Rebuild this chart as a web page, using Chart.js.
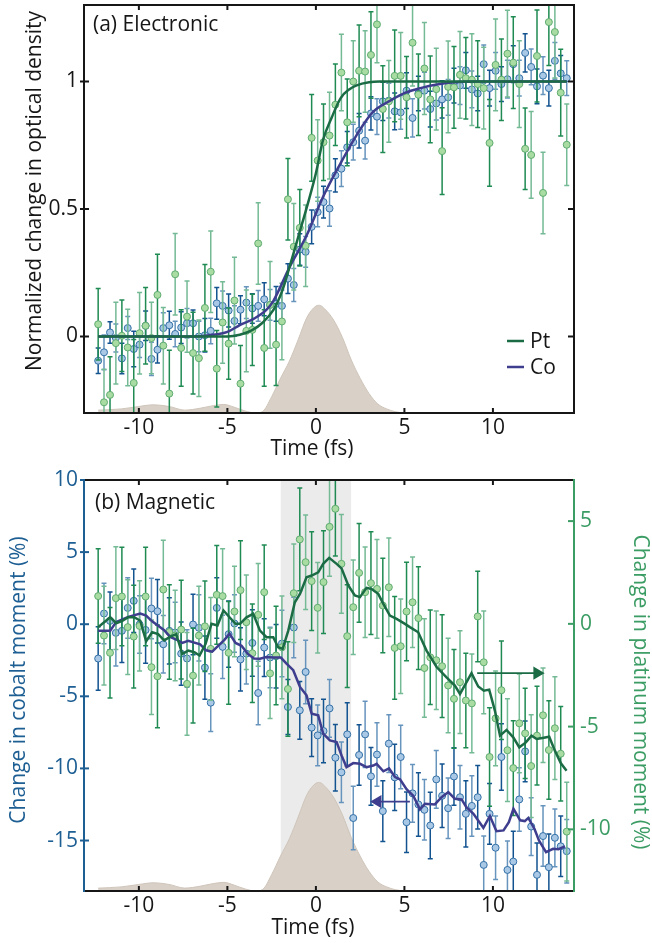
<!DOCTYPE html>
<html lang="en">
<head>
<meta charset="UTF-8">
<title>Electronic and magnetic response</title>
<script src="https://cdn.jsdelivr.net/npm/chart.js@4.4.1/dist/chart.umd.min.js"></script>
<style>
  body { margin: 0; background: #fff; }
  canvas { display: block; }
</style>
</head>
<body>
<canvas id="elec" width="652" height="460"></canvas>
<canvas id="magn" width="652" height="483"></canvas>
<script>
// time axis of the measured points (fs)
const times = [-12.3,-11.97,-11.63,-11.3,-10.96,-10.63,-10.29,-9.96,-9.62,-9.29,
  -8.95,-8.62,-8.28,-7.95,-7.61,-7.28,-6.94,-6.61,-6.27,-5.94,
  -5.6,-5.27,-4.93,-4.6,-4.26,-3.93,-3.59,-3.26,-2.92,-2.59,
  -2.25,-1.92,-1.58,-1.25,-0.91,-0.58,-0.24,0.1,0.43,0.77,
  1.1,1.44,1.77,2.11,2.44,2.78,3.11,3.45,3.78,4.12,
  4.45,4.79,5.12,5.46,5.79,6.13,6.46,6.8,7.13,7.47,
  7.8,8.14,8.47,8.81,9.14,9.48,9.81,10.15,10.48,10.82,
  11.15,11.49,11.82,12.16,12.49,12.83,13.16,13.5,13.83,14.17];

const xTicks = [-10, -5, 0, 5, 10];
const odTicks = [0, 0.5, 1];
const coTicks = [-15, -10, -5, 0, 5, 10];
const ptTicks = [-10, -5, 0, 5];

// (a) electronic: normalized change in optical density
const odCo = [-0.095,-0.062,0.016,-0.006,-0.086,0.033,-0.049,-0.032,0.042,-0.088,
  -0.052,0.033,0.044,0.01,0.035,0.052,0.052,0.0,0.005,0.022,
  0.13,0.12,0.102,0.061,0.105,0.133,0.11,0.12,0.146,0.124,
  0.128,0.12,0.227,0.202,0.341,0.332,0.43,0.488,0.527,0.502,
  0.632,0.658,0.742,0.762,0.807,0.768,0.875,0.862,0.922,0.925,
  0.883,0.879,0.964,0.857,0.953,0.964,0.892,0.914,0.93,0.938,
  0.984,0.984,1.044,0.969,0.953,1.068,0.974,1.042,0.99,1.009,
  1.068,1.013,1.112,1.057,0.981,1.023,0.974,1.081,1.032,1.013];
const odCoErr = [0.05,0.068,0.042,0.055,0.06,0.045,0.07,0.05,0.058,0.065,
  0.052,0.06,0.055,0.05,0.062,0.058,0.052,0.06,0.066,0.05,
  0.062,0.058,0.065,0.06,0.055,0.062,0.058,0.06,0.065,0.06,
  0.068,0.062,0.058,0.065,0.062,0.06,0.066,0.058,0.062,0.07,
  0.065,0.07,0.062,0.07,0.068,0.072,0.065,0.07,0.075,0.068,
  0.072,0.066,0.07,0.075,0.068,0.072,0.07,0.065,0.073,0.07,
  0.068,0.074,0.07,0.072,0.068,0.075,0.07,0.072,0.068,0.074,
  0.072,0.07,0.075,0.07,0.068,0.074,0.07,0.072,0.07,0.068];
const odPt = [0.048,-0.258,-0.229,-0.026,0.003,-0.043,-0.182,0.013,0.042,-0.006,
  0.163,-0.036,-0.224,0.244,-0.045,0.078,-0.065,-0.085,0.112,0.254,
  -0.126,0.055,-0.028,0.141,-0.185,0.022,0.026,0.365,-0.045,0.124,
  -0.032,0.059,0.538,0.352,0.426,0.356,0.779,0.69,0.762,0.788,
  0.909,1.035,0.84,1.0,1.042,1.039,1.104,1.224,0.892,0.922,
  1.022,1.022,0.938,1.152,0.948,1.051,0.93,0.97,0.727,0.979,
  0.977,1.026,1.013,1.007,0.99,0.974,0.759,1.065,1.007,1.109,
  1.074,0.99,0.736,0.712,1.1,0.563,1.233,1.194,0.956,0.752];
const odPtErr = [0.14,0.13,0.15,0.16,0.14,0.15,0.17,0.16,0.15,0.14,
  0.16,0.15,0.17,0.16,0.15,0.14,0.16,0.15,0.17,0.16,
  0.15,0.16,0.14,0.17,0.15,0.16,0.14,0.16,0.15,0.17,
  0.16,0.15,0.16,0.17,0.15,0.16,0.17,0.16,0.15,0.17,
  0.16,0.15,0.17,0.16,0.18,0.16,0.17,0.15,0.17,0.16,
  0.18,0.17,0.16,0.17,0.16,0.18,0.17,0.16,0.17,0.18,
  0.16,0.17,0.16,0.18,0.17,0.16,0.17,0.18,0.16,0.17,
  0.18,0.17,0.16,0.17,0.18,0.16,0.17,0.18,0.17,0.16];

// fitted curves
const fitPtT = [-12.3,-5,-4.3,-3.6,-3,-2.4,-1.9,-1.5,-1,-0.5,0,0.4,0.9,1.4,1.9,2.3,3,3.6,4.5,14.17];
const fitPtV = [0,0,0.007,0.025,0.055,0.104,0.18,0.27,0.39,0.51,0.64,0.77,0.86,0.935,0.97,0.985,0.997,1,1,1];
const fitCoT = [-12.3,-7,-6,-5,-4.3,-3.5,-2.8,-2.4,-1.5,-0.5,0.4,1.4,2.3,3.2,4.2,5.1,5.9,7,8,9,14.17];
const fitCoV = [0,0,0.005,0.018,0.045,0.07,0.104,0.14,0.27,0.4,0.547,0.68,0.79,0.879,0.925,0.957,0.974,0.99,0.998,1,1];

// pump pulse envelope, as a fraction of the panel height
const pulseT = [-12.3,-11,-10,-9.2,-8.3,-7.4,-6.5,-5.8,-5.2,-4.6,-4,-3.4,-3,-2.5,-2,-1.5,-1,-0.5,0,0.2,0.5,1,1.5,2,2.5,3,3.5,4,4.5,5];
const pulseV = [0.007,0.01,0.016,0.02,0.016,0.007,0.012,0.018,0.021,0.014,0.005,0,0.004,0.04,0.085,0.127,0.18,0.235,0.262,0.264,0.255,0.228,0.185,0.13,0.085,0.048,0.022,0.01,0.003,0];

// (b) magnetic: change in moment (%)
const magCo = [-2.38,0.74,0.23,-0.6,-0.46,1.13,1.62,-0.02,-0.4,1.09,
  0.9,-1.39,-0.46,-0.58,-2.04,-2.38,-0.02,-0.25,-3.01,-5.44,
  1.13,-1.57,-0.69,0.05,-2.44,-2.04,-1.3,-4.77,-1.62,-2.31,
  -2.22,-1.34,-5.74,-0.23,-5.97,-3.31,-7.17,-7.71,-7.41,-5.84,
  -9.26,-10.27,-7.64,-13.44,-9.07,-7.64,-10.55,-9.04,-12.96,-8.28,
  -10.62,-9.21,-13.73,-11.73,-12.5,-12.87,-13.96,-10.76,-11.9,-12.76,
  -10.56,-12.0,-13.15,-12.6,-12.0,-16.69,-13.15,-15.5,-9.21,-17.04,
  -16.46,-12.15,-8.82,-14.03,-17.38,-14.69,-16.85,-14.81,-15.4,-15.74];
const magCoErr = [2.2,2.1,2.0,2.3,2.2,2.1,2.2,2.0,2.3,2.1,
  2.2,2.0,2.3,2.1,2.2,2.0,2.1,2.3,2.2,2.0,
  2.1,2.2,2.3,2.0,2.2,2.1,2.3,2.2,2.0,2.1,
  2.2,2.3,1.9,2.1,2.0,2.2,2.0,2.1,2.2,2.0,
  2.3,2.1,2.2,2.2,2.1,2.3,2.0,2.2,2.1,2.0,
  2.3,2.2,2.1,2.0,2.2,2.1,2.3,2.0,2.2,2.1,
  2.0,2.2,2.3,2.1,2.2,2.0,2.1,2.2,2.3,2.0,
  2.1,2.2,2.1,2.0,2.2,2.1,2.3,2.0,2.1,2.2];
const magPt = [1.35,-0.57,-1.41,1.25,1.33,-0.16,-0.62,-0.1,1.33,-2.11,
  -2.55,1.67,-0.4,-0.57,-0.28,-2.92,-2.52,-0.57,-0.12,-1.22,
  1.41,1.35,-1.41,0.6,1.64,0.08,-1.43,0.44,1.54,-2.41,
  -1.54,-1.14,-3.17,1.49,4.11,3.0,2.08,0.78,2.03,4.72,
  5.6,2.92,-0.6,0.81,2.48,1.54,1.98,1.7,0.89,1.78,
  -1.17,-1.09,0.6,1.05,0.28,-2.15,-1.63,-1.77,-2.06,-3.0,
  -3.65,-2.84,-3.73,-3.87,0.36,-1.87,-6.48,-4.6,-3.23,-6.15,
  -7.02,-4.84,-5.33,-6.92,-5.44,-4.45,-6.14,-5.08,-6.32,-10.11];
const magPtErr = [2.3,2.4,2.2,2.5,2.4,2.3,2.5,2.2,2.4,2.3,
  2.5,2.4,2.3,2.2,2.4,2.5,2.3,2.4,2.2,2.5,
  2.4,2.3,2.5,2.2,2.4,2.3,2.4,2.5,2.3,2.2,
  2.4,2.5,2.3,2.4,2.5,2.3,2.4,2.2,2.5,2.4,
  2.3,2.4,2.5,2.3,2.4,2.2,2.5,2.4,2.3,2.4,
  2.5,2.3,2.4,2.2,2.5,2.4,2.3,2.4,2.5,2.3,
  2.4,2.5,2.3,2.4,2.2,2.5,2.4,2.3,2.4,2.5,
  2.3,2.4,2.2,2.5,2.4,2.3,2.4,2.5,2.3,2.4];

// running averages
const avgCoT = [-12.3,-11.62,-11.28,-10.6,-9.92,-9.59,-9.25,-8.57,-8.23,-7.89,-7.55,-7.21,-6.54,-6.2,-5.86,-5.52,-5.18,-4.88,-4.54,-4.2,
  -3.86,-3.5,-3.16,-2.79,-2.41,-1.98,-1.66,-1.28,-0.9,-0.53,-0.24,0.13,0.41,0.79,1.17,1.45,1.73,2.11,2.49,2.86,
  3.24,3.43,3.81,4.13,4.47,4.75,5.13,5.5,5.88,6.16,6.72,7.1,7.48,7.85,8.23,8.5,8.9,9.46,9.83,10.2,
  10.6,10.9,11.16,11.54,11.8,12.0,12.35,12.6,13.0,13.4,13.7,14.07];
const avgCoV = [-0.45,-0.45,0.16,0.51,0.74,0.6,0.2,-0.42,-0.88,-1.06,-1.3,-1.15,-1.4,-1.81,-1.9,-1.5,-1.1,-0.65,-1.3,-1.5,
  -2.04,-2.38,-2.4,-2.27,-2.3,-2.31,-2.73,-3.19,-4.35,-4.93,-6.2,-6.32,-7.59,-8.06,-8.17,-9.1,-9.91,-9.63,-9.68,-9.91,
  -9.8,-9.68,-10.2,-10.0,-10.6,-10.75,-11.45,-11.9,-12.85,-12.45,-12.5,-12.0,-11.64,-12.1,-12.15,-12.69,-13.15,-14.12,-13.3,-14.35,
  -14.3,-13.73,-12.8,-13.6,-13.65,-13.43,-14.2,-15.0,-15.8,-15.57,-15.6,-15.4];
const avgPtT = [-12.3,-11.96,-11.62,-11.28,-10.94,-10.6,-10.26,-9.92,-9.59,-9.25,-8.91,-8.57,-8.23,-7.89,-7.55,-7.21,-6.87,-6.57,-6.23,-5.9,
  -5.56,-5.22,-4.88,-4.54,-4.29,-3.92,-3.54,-3.16,-2.79,-2.41,-2.13,-1.88,-1.56,-1.19,-0.9,-0.53,-0.24,0.13,0.41,0.75,
  1.17,1.45,1.83,2.2,2.49,2.86,3.14,3.52,3.81,4.18,4.56,5.03,5.31,5.78,6.25,6.82,7.38,7.85,8.14,8.51,
  8.79,9.17,9.49,9.79,10.11,10.4,10.77,11.15,11.49,11.86,12.18,12.47,12.8,13.18,13.5,13.84,14.16];
const avgPtV = [-0.16,0.08,0.32,0.03,0.15,0.32,0.32,0.15,-0.85,-0.41,-0.5,-0.81,-0.62,-0.5,-1.46,-1.3,-1.38,-1.54,-0.97,0,
  -0.08,0.65,0.32,0,0,0.32,0.49,-0.33,-0.65,-0.65,-1.14,-1.22,-0.33,1.05,1.46,2.27,2.35,2.51,2.92,3.21,
  2.92,2.7,1.87,1.38,1.3,1.75,1.7,1.46,0.97,0.4,0.24,0,-0.16,-0.41,-1.3,-2.1,-2.6,-3.0,-3.41,-2.84,
  -2.4,-3.05,-3.25,-3.2,-4.22,-5.44,-5.16,-5.52,-6.01,-5.77,-5.44,-5.6,-5.55,-5.49,-6.17,-6.79,-7.15];

// shaded pulse window and the two axis arrows
const bandT = [-2, 2], bandV = [1, 1];
const arrowPtT = [9.11, 12.5], arrowPtV = [-2.4, -2.4];
const arrowCoT = [5.31, 3.49], arrowCoV = [-12.3, -12.3];

const FONT = "'Open Sans', 'Noto Sans', sans-serif";
const INK = '#161616';
const CO_AXIS = '#1d5e93', PT_AXIS = '#3b9c64';
const CO_LINE = '#3e3d8e', PT_LINE = '#1b6b45';
const CO_FILL = '#a8c8e5', CO_EDGE = '#3470a6', CO_BARS = ['#135390', '#6694bd'];
const PT_FILL = '#a9dca2', PT_EDGE = '#5fab70', PT_BARS = ['#1f8b53', '#74ba95'];
const PULSE = '#d9d0c8';

Chart.defaults.font.family = FONT;
Chart.defaults.font.size = 21;
Chart.defaults.color = INK;

const xy = (xs, ys) => xs.map((x, i) => ({ x, y: ys[i] }));

// vertical error bars with caps, drawn under each point set
const errorBars = {
  id: 'errorBars',
  beforeDatasetDraw(chart, args) {
    const ds = chart.data.datasets[args.index];
    if (!ds.err) return;
    const ys = chart.scales[args.meta.yAxisID];
    const { ctx, chartArea: a } = chart;
    ctx.save();
    ctx.beginPath();
    ctx.rect(a.left, a.top, a.right - a.left, a.bottom - a.top);
    ctx.clip();
    ctx.lineWidth = 1.5;
    args.meta.data.forEach((pt, i) => {
      const v = ds.data[i].y, e = ds.err[i];
      const y1 = ys.getPixelForValue(v + e), y2 = ys.getPixelForValue(v - e);
      ctx.strokeStyle = ds.barColors[i % 2];
      ctx.beginPath();
      ctx.moveTo(pt.x, y1); ctx.lineTo(pt.x, y2);
      ctx.moveTo(pt.x - 2.5, y1); ctx.lineTo(pt.x + 2.5, y1);
      ctx.moveTo(pt.x - 2.5, y2); ctx.lineTo(pt.x + 2.5, y2);
      ctx.stroke();
    });
    ctx.restore();
  }
};

// box frame, inward ticks, axis titles, panel label and legend
const frame = {
  id: 'frame',
  afterDraw(chart, args, o) {
    const { ctx, chartArea: a, scales } = chart;
    const seg = (x1, y1, x2, y2, c) => {
      ctx.strokeStyle = c; ctx.beginPath(); ctx.moveTo(x1, y1); ctx.lineTo(x2, y2); ctx.stroke();
    };
    ctx.save();
    ctx.lineWidth = 2;
    xTicks.forEach(v => {
      const x = scales.x.getPixelForValue(v);
      seg(x, a.bottom, x, a.bottom - 5, INK);
      seg(x, a.top, x, a.top + 5, INK);
    });
    o.leftTicks.forEach(v => {
      const y = scales.y.getPixelForValue(v);
      seg(a.left - 4, y, a.left + 5, y, o.leftColor);
    });
    o.rightTicks.forEach(v => {
      const y = scales[o.rightScale].getPixelForValue(v);
      seg(a.right - 6, y, a.right, y, o.rightColor);
    });
    seg(a.left, a.top, a.right, a.top, INK);
    seg(a.left, a.bottom, a.right, a.bottom, INK);
    seg(a.left, a.top - 1, a.left, a.bottom + 1, o.leftColor);
    seg(a.right, a.top - 1, a.right, a.bottom + 1, o.rightColor);

    ctx.font = `21px ${FONT}`;
    ctx.textBaseline = 'middle';
    o.titles.forEach(t => {
      ctx.save();
      ctx.fillStyle = t.color;
      ctx.textAlign = 'center';
      ctx.translate(t.x, t.y);
      ctx.rotate(t.rot * Math.PI / 180);
      ctx.fillText(t.text, 0, 0);
      ctx.restore();
    });
    ctx.fillStyle = INK;
    ctx.textAlign = 'left';
    ctx.fillText(o.label[0], o.label[1], o.label[2]);
    (o.legend || []).forEach(l => {
      ctx.lineWidth = 2.5;
      seg(l.x, l.y, l.x + 17, l.y, l.color);
      ctx.fillText(l.text, l.x + 23, l.y + 1);
    });
    ctx.restore();
  }
};

const xScale = (h, pad) => ({
  type: 'linear', min: -13.1, max: 14.58,
  grid: { display: false, drawTicks: false }, border: { display: false },
  afterBuildTicks: s => { s.ticks = xTicks.map(v => ({ value: v })); },
  ticks: { padding: pad, color: INK, callback: v => String(v) },
  afterFit: s => { s.height = h; s.paddingLeft = 0; s.paddingRight = 0; }
});
const yScale = (min, max, ticks, pos, w, color) => ({
  type: 'linear', position: pos, min, max,
  grid: { display: false, drawTicks: false }, border: { display: false },
  afterBuildTicks: s => { s.ticks = ticks.map(v => ({ value: v })); },
  ticks: { padding: 6, color, callback: v => String(v) },
  afterFit: s => { s.width = w; s.paddingTop = 0; s.paddingBottom = 0; }
});
const hidden = { type: 'linear', display: false, min: 0, max: 1 };

const base = {
  responsive: false, animation: false, devicePixelRatio: 1, events: [],
};

new Chart(document.getElementById('elec'), {
  type: 'line',
  data: {
    datasets: [
      { data: xy(fitPtT, fitPtV), borderColor: PT_LINE, borderWidth: 2.5, pointRadius: 0, cubicInterpolationMode: 'monotone' },
      { data: xy(fitCoT, fitCoV), borderColor: CO_LINE, borderWidth: 2.5, pointRadius: 0, cubicInterpolationMode: 'monotone' },
      { data: xy(times, odPt), err: odPtErr, barColors: PT_BARS, showLine: false,
        pointRadius: 3.5, pointBackgroundColor: PT_FILL, pointBorderColor: PT_EDGE, pointBorderWidth: 1 },
      { data: xy(times, odCo), err: odCoErr, barColors: CO_BARS, showLine: false,
        pointRadius: 3.5, pointBackgroundColor: CO_FILL, pointBorderColor: CO_EDGE, pointBorderWidth: 1 },
      { data: xy(pulseT, pulseV), yAxisID: 'yp', fill: 'start', backgroundColor: PULSE,
        borderColor: '#cfc5ba', borderWidth: 1, pointRadius: 0, cubicInterpolationMode: 'monotone' }
    ]
  },
  options: {
    ...base,
    layout: { padding: { top: 3, right: 78, left: 0, bottom: 0 } },
    scales: {
      x: xScale(47, 2),
      y: yScale(-0.3, 1.3, odTicks, 'left', 84, INK),
      yp: hidden
    },
    plugins: {
      legend: { display: false }, tooltip: { enabled: false },
      frame: {
        leftTicks: odTicks, rightTicks: odTicks, rightScale: 'y',
        leftColor: INK, rightColor: INK,
        label: ['(a) Electronic', 93, 25],
        titles: [
          { text: 'Time (fs)', x: 312, y: 449, rot: 0, color: INK },
          { text: 'Normalized change in optical density', x: 35, y: 191, rot: -90, color: INK }
        ],
        legend: [
          { text: 'Pt', x: 507, y: 341, color: PT_LINE },
          { text: 'Co', x: 507, y: 367, color: CO_LINE }
        ]
      }
    }
  },
  plugins: [errorBars, frame]
});

new Chart(document.getElementById('magn'), {
  type: 'line',
  data: {
    datasets: [
      { data: xy(arrowPtT, arrowPtV), yAxisID: 'y2', borderColor: PT_LINE, borderWidth: 1.6,
        pointRadius: [0, 6], pointStyle: 'triangle', pointRotation: [0, 90],
        pointBackgroundColor: PT_LINE, pointBorderColor: PT_LINE },
      { data: xy(arrowCoT, arrowCoV), yAxisID: 'y', borderColor: CO_LINE, borderWidth: 1.6,
        pointRadius: [0, 6], pointStyle: 'triangle', pointRotation: [0, -90],
        pointBackgroundColor: CO_LINE, pointBorderColor: CO_LINE },
      { data: xy(avgPtT, avgPtV), yAxisID: 'y2', borderColor: PT_LINE, borderWidth: 2.5, pointRadius: 0 },
      { data: xy(avgCoT, avgCoV), yAxisID: 'y', borderColor: CO_LINE, borderWidth: 2.5, pointRadius: 0 },
      { data: xy(times, magPt), yAxisID: 'y2', err: magPtErr, barColors: PT_BARS, showLine: false,
        pointRadius: 3.5, pointBackgroundColor: PT_FILL, pointBorderColor: PT_EDGE, pointBorderWidth: 1 },
      { data: xy(times, magCo), yAxisID: 'y', err: magCoErr, barColors: CO_BARS, showLine: false,
        pointRadius: 3.5, pointBackgroundColor: CO_FILL, pointBorderColor: CO_EDGE, pointBorderWidth: 1 },
      { data: xy(pulseT, pulseV), yAxisID: 'yp', fill: 'start', backgroundColor: PULSE,
        borderColor: '#cfc5ba', borderWidth: 1, pointRadius: 0, cubicInterpolationMode: 'monotone' },
      { data: xy(bandT, bandV), yAxisID: 'yp', fill: 'start', backgroundColor: '#ebebeb',
        borderWidth: 0, pointRadius: 0 }
    ]
  },
  options: {
    ...base,
    layout: { padding: { top: 20, right: 0, left: 0, bottom: 0 } },
    scales: {
      x: xScale(52, 2),
      y: yScale(-18.5, 10, coTicks, 'left', 84, CO_AXIS),
      y2: yScale(-13, 7, ptTicks, 'right', 78, PT_AXIS),
      yp: hidden
    },
    plugins: {
      legend: { display: false }, tooltip: { enabled: false },
      frame: {
        leftTicks: coTicks, rightTicks: ptTicks, rightScale: 'y2',
        leftColor: CO_AXIS, rightColor: PT_AXIS,
        label: ['(b) Magnetic', 95, 43],
        titles: [
          { text: 'Time (fs)', x: 313, y: 468, rot: 0, color: INK },
          { text: 'Change in cobalt moment (%)', x: 19, y: 220, rot: -90, color: CO_AXIS },
          { text: 'Change in platinum moment (%)', x: 640, y: 232, rot: 90, color: PT_AXIS }
        ]
      }
    }
  },
  plugins: [errorBars, frame]
});
</script>
</body>
</html>
